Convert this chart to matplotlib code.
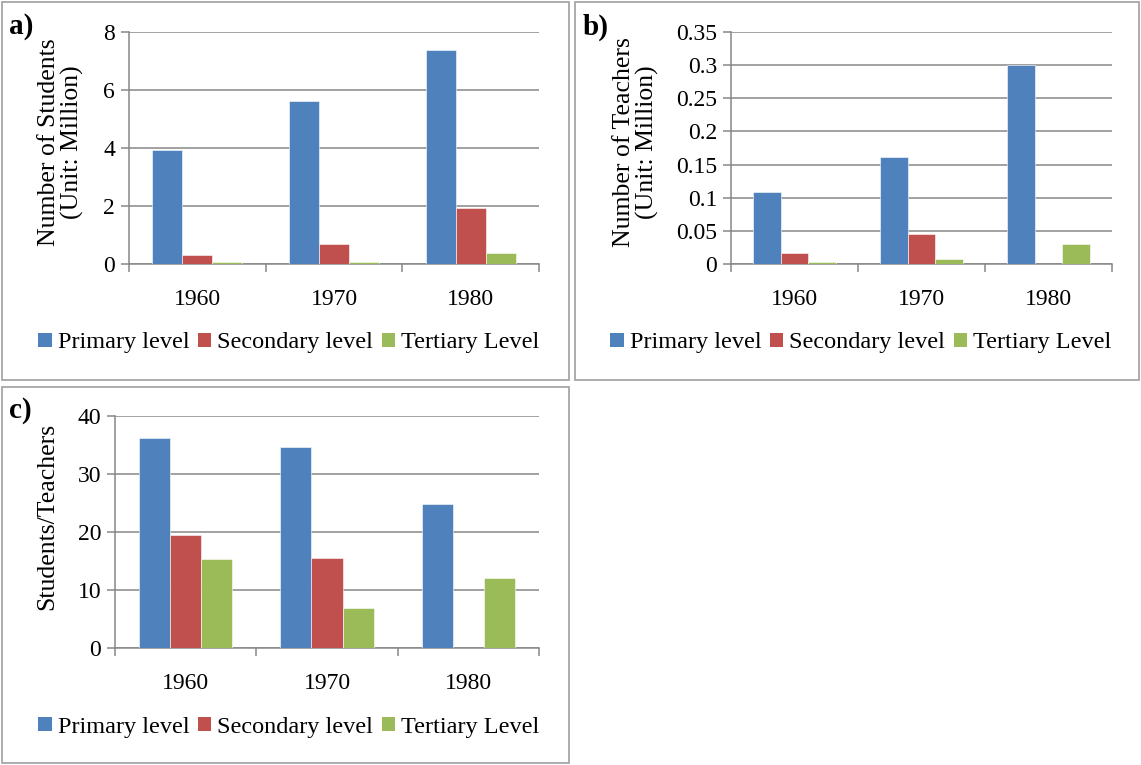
import numpy as np
import matplotlib
matplotlib.use('Agg')
import matplotlib.pyplot as plt
from matplotlib.patches import Rectangle, Patch

plt.rcParams['font.family'] = ['Liberation Serif', 'DejaVu Serif']

# data
years = ['1960', '1970', '1980']
levels = ['Primary level', 'Secondary level', 'Tertiary Level']

students_primary = [3.93, 5.62, 7.39]
students_secondary = [0.31, 0.69, 1.93]
students_tertiary = [0.06, 0.06, 0.38]

teachers_primary = [0.109, 0.162, 0.300]
teachers_secondary = [0.016, 0.045, 0.0]
teachers_tertiary = [0.0035, 0.008, 0.0306]

ratio_primary = [36.2, 34.6, 24.8]
ratio_secondary = [19.4, 15.5, 0.0]
ratio_tertiary = [15.3, 6.9, 12.1]

students_ticks = [0, 2, 4, 6, 8]
teachers_ticks = [0, 0.05, 0.1, 0.15, 0.2, 0.25, 0.3, 0.35]
teachers_ticklabels = ['0', '0.05', '0.1', '0.15', '0.2', '0.25', '0.3', '0.35']
ratio_ticks = [0, 10, 20, 30, 40]

colors = ['#4F81BD', '#C0504D', '#9BBB59']
grid_c = '#878787'

W, H = 1141, 765
fig = plt.figure(figsize=(W / 100, H / 100), dpi=100)


def px_axes(l, t, r, b):
    # pixel box -> figure fraction
    return fig.add_axes([l / W, 1 - b / H, (r - l) / W, (b - t) / H])


def panel_box(l, t, r, b):
    fig.patches.append(Rectangle((l / W, 1 - b / H), (r - l) / W, (b - t) / H,
                                 transform=fig.transFigure, fill=False,
                                 edgecolor='#a6a6a6', linewidth=1.3))


def bars(ax, series, ticks, ticklabels=None):
    x = np.arange(len(years)) + 0.5
    w = 0.22
    for i, vals in enumerate(series):
        ax.bar(x + (i - 1) * w, vals, w, color=colors[i],
               edgecolor='white', linewidth=0.4, zorder=3)
    ax.set_xlim(0, len(years))
    ax.set_ylim(ticks[0], ticks[-1])
    ax.set_yticks(ticks)
    if ticklabels is not None:
        ax.set_yticklabels(ticklabels)
    ax.yaxis.grid(True, color=grid_c, linewidth=1.1, zorder=0)
    # tick marks between categories, labels at the centres
    ax.set_xticks(np.arange(len(years) + 1))
    ax.set_xticklabels([])
    ax.set_xticks(x, minor=True)
    ax.set_xticklabels(years, minor=True)
    ax.tick_params(axis='x', which='major', length=6, width=1.1, color=grid_c)
    ax.tick_params(axis='x', which='minor', length=0, pad=18, labelsize=17)
    ax.tick_params(axis='y', length=6, width=1.1, color=grid_c, labelsize=17, pad=4)
    for s in ['top', 'right']:
        ax.spines[s].set_visible(False)
    for s in ['left', 'bottom']:
        ax.spines[s].set_color(grid_c)
        ax.spines[s].set_linewidth(1.1)


def legend_at(cx, cy):
    handles = [Patch(facecolor=c, edgecolor='none') for c in colors]
    fig.legend(handles, levels, loc='center', bbox_to_anchor=(cx / W, 1 - cy / H),
               ncol=3, frameon=False, fontsize=17.5, handlelength=0.55,
               handleheight=0.55, handletextpad=0.25, columnspacing=0.35)


# a) students
panel_box(2, 2, 569, 380)
ax1 = px_axes(129, 32, 539, 264)
bars(ax1, [students_primary, students_secondary, students_tertiary], students_ticks)
fig.text(61 / W, 1 - 142 / H, 'Number of Students\n(Unit: Million)', rotation=90,
         ha='center', va='center', fontsize=18.5, linespacing=1.0)
fig.text(9 / W, 1 - 27 / H, 'a)', fontsize=21, fontweight='bold', va='center')
legend_at(289, 343)

# b) teachers
panel_box(575, 2, 1139, 380)
ax2 = px_axes(731, 32, 1112, 264)
bars(ax2, [teachers_primary, teachers_secondary, teachers_tertiary],
     teachers_ticks, teachers_ticklabels)
fig.text(636 / W, 1 - 142 / H, 'Number of Teachers\n(Unit: Million)', rotation=90,
         ha='center', va='center', fontsize=18.5, linespacing=1.0)
fig.text(583 / W, 1 - 27 / H, 'b)', fontsize=21, fontweight='bold', va='center')
legend_at(861, 343)

# c) students per teacher
panel_box(2, 387, 569, 763)
ax3 = px_axes(115, 416, 539, 648)
bars(ax3, [ratio_primary, ratio_secondary, ratio_tertiary], ratio_ticks)
fig.text(47 / W, 1 - 516 / H, 'Students/Teachers', rotation=90,
         ha='center', va='center', fontsize=18.5)
fig.text(9 / W, 1 - 411 / H, 'c)', fontsize=21, fontweight='bold', va='center')
legend_at(289, 727)

fig.savefig('out.png', dpi=100)
